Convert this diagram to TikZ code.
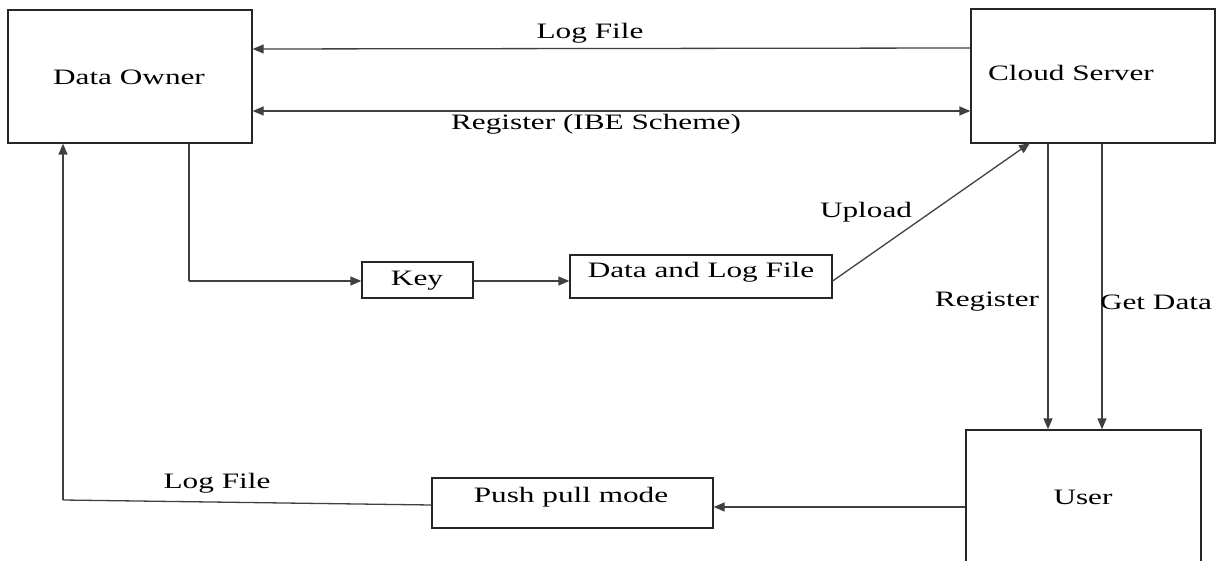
\documentclass[tikz,border=0pt]{standalone}
\usepackage{fontspec}
\setmainfont[FakeStretch=1.42]{Liberation Serif}
\usetikzlibrary{arrows.meta,calc}
\begin{document}
\begin{tikzpicture}[x=1pt,y=-1pt,
  box/.style={draw=black!85,line width=1.3pt,rectangle,inner sep=0pt},
  lbl/.style={inner sep=0pt,font=\fontsize{22}{25}\selectfont},
  conn/.style={draw=black!75,line width=1.3pt},
  arr/.style={conn,-{Triangle[length=11pt,width=9pt]}},
  darr/.style={conn,{Triangle[length=11pt,width=9pt]}-{Triangle[length=11pt,width=9pt]}}]
\useasboundingbox (0,0) rectangle (1217,561);
\begin{scope}
\clip (0,0) rectangle (1217,561);
% boxes
\node[box,minimum width=244pt,minimum height=133pt] (owner) at (130,76.5) {};
\node[lbl] (ownert) at (129,77) {Data Owner};
\node[box,minimum width=244pt,minimum height=134pt] (cloud) at (1093,76) {};
\node[lbl] (cloudt) at (1071,73) {Cloud Server};
\node[box,minimum width=111pt,minimum height=36pt] (key) at (417.5,280) {};
\node[lbl] (keyt) at (417,281) {Key};
\node[box,minimum width=262pt,minimum height=43pt] (data) at (701,276.5) {};
\node[lbl] (datat) at (701,272) {Data and Log File};
\node[box,minimum width=281pt,minimum height=50pt] (push) at (572.5,503) {};
\node[lbl] (pusht) at (571,497) {Push pull mode};
\node[box,minimum width=235pt,minimum height=150pt] (user) at (1083.5,505) {};
\node[lbl] (usert) at (1083,497) {User};
% helper coordinates
\coordinate (c1) at (189,281);
\coordinate (c2) at (63,500);
\coordinate (up) at (1030,143);
% connectors
\draw[arr] (cloud.west |- 0,48) -- (owner.east |- 0,49);
\node[lbl] (l1) at (590,33) {Log File};
\draw[darr] (owner.east |- 0,111) -- (cloud.west |- 0,111);
\node[lbl] (l2) at (596,124) {Register (IBE Scheme)};
\draw[conn] (owner.south -| c1) -- (c1);
\draw[arr] (c1) -- (key.west |- c1);
\draw[arr] (key.east |- c1) -- (data.west |- c1);
\draw[arr] (data.east |- 0,281) -- (up);
\node[lbl] (l3) at (866,212) {Upload};
\draw[arr] (cloud.south -| 1048,0) -- (user.north -| 1048,0);
\node[lbl] (l4) at (987,302) {Register};
\draw[arr] (cloud.south -| 1102,0) -- (user.north -| 1102,0);
\node[lbl] (l5) at (1156,302) {Get Data};
\draw[arr] (user.west |- 0,507) -- (push.east |- 0,507);
\draw[conn] (push.west |- 0,505) -- (c2);
\draw[arr] (c2) -- (owner.south -| c2);
\node[lbl] (l6) at (217,483) {Log File};
\end{scope}
\end{tikzpicture}
\end{document}
